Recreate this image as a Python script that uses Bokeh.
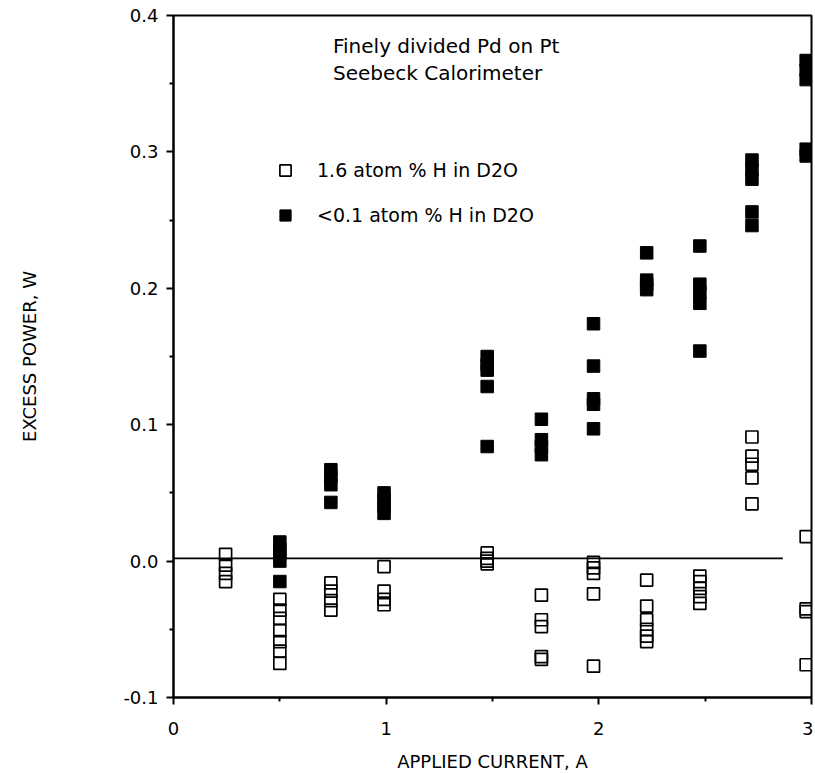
from bokeh.plotting import figure
from bokeh.models import (FixedTicker, PrintfTickFormatter, Label, Legend, LegendItem)
from bokeh.embed import file_html
from bokeh.resources import INLINE

FONT = "DejaVu Sans"

# ---- data: 1.6 atom % H in D2O (open squares) ----
open_x = ([0.245] * 4 + [0.5] * 7 + [0.74] * 4 + [0.99] * 4 + [1.475] * 4 + [1.73] * 5
          + [1.975] * 5 + [2.225] * 6 + [2.475] * 5 + [2.72] * 5 + [2.975] * 4)
open_y = [0.005, -0.003, -0.009, -0.015,
          -0.028, -0.036, -0.042, -0.051, -0.059, -0.066, -0.075,
          -0.016, -0.022, -0.029, -0.036,
          -0.004, -0.022, -0.028, -0.032,
          0.006, 0.002, 0.0, -0.002,
          -0.025, -0.043, -0.048, -0.070, -0.072,
          -0.001, -0.005, -0.009, -0.024, -0.077,
          -0.014, -0.033, -0.043, -0.050, -0.055, -0.059,
          -0.011, -0.015, -0.020, -0.026, -0.031,
          0.091, 0.077, 0.071, 0.061, 0.042,
          0.018, -0.035, -0.037, -0.076]

# ---- data: <0.1 atom % H in D2O (filled squares) ----
filled_x = ([0.5] * 5 + [0.74] * 4 + [0.99] * 4 + [1.475] * 5 + [1.73] * 4 + [1.975] * 5
            + [2.225] * 4 + [2.475] * 5 + [2.72] * 5 + [2.975] * 5)
filled_y = [0.014, 0.009, 0.005, 0.0, -0.015,
            0.067, 0.062, 0.056, 0.043,
            0.050, 0.045, 0.040, 0.035,
            0.150, 0.144, 0.140, 0.128, 0.084,
            0.104, 0.089, 0.084, 0.078,
            0.174, 0.143, 0.119, 0.115, 0.097,
            0.226, 0.206, 0.203, 0.199,
            0.231, 0.203, 0.197, 0.189, 0.154,
            0.294, 0.287, 0.280, 0.256, 0.246,
            0.367, 0.360, 0.353, 0.302, 0.297]

# zero reference line
ref_x = [0.0, 2.865]
ref_y = [0.002, 0.002]

y_ticks = [-0.1, 0.0, 0.1, 0.2, 0.3, 0.4]
y_minor = [-0.05, 0.05, 0.15, 0.25, 0.35]
x_ticks = [0, 1, 2, 3]
x_minor = [0.5, 1.5, 2.5]

title_lines = ["Finely divided Pd on Pt", "Seebeck Calorimeter"]
series_names = ["1.6 atom % H in D2O", "<0.1 atom % H in D2O"]

p = figure(width=813, height=774, output_backend="svg", toolbar_location=None,
           x_range=(0, 3), y_range=(-0.1, 0.4),
           min_border_left=173, min_border_right=2, min_border_top=15, min_border_bottom=72)
p.grid.visible = False
p.background_fill_color = "white"
p.outline_line_color = "black"
p.outline_line_width = 2
p.outline_line_alpha = 1

for ax in (p.xaxis[0], p.yaxis[0]):
    ax.axis_line_width = 2
    ax.axis_line_color = "black"
    ax.major_tick_line_width = 2
    ax.minor_tick_line_width = 2
    ax.major_tick_out = 7
    ax.major_tick_in = 0
    ax.minor_tick_out = 4
    ax.minor_tick_in = 0
    ax.major_label_text_font = FONT
    ax.major_label_text_font_size = "18px"
    ax.major_label_text_color = "black"
    ax.axis_label_text_font = FONT
    ax.axis_label_text_font_size = "18px"
    ax.axis_label_text_font_style = "normal"
    ax.axis_label_text_color = "black"

p.yaxis.ticker = FixedTicker(ticks=y_ticks, minor_ticks=y_minor)
p.yaxis.formatter = PrintfTickFormatter(format="%.1f")
p.yaxis.major_label_standoff = 8
p.yaxis.axis_label = "EXCESS POWER, W"
p.yaxis.axis_label_standoff = 80
p.xaxis.ticker = FixedTicker(ticks=x_ticks, minor_ticks=x_minor)
p.xaxis.major_label_standoff = 17
p.xaxis.axis_label = "APPLIED CURRENT, A"
p.xaxis.axis_label_standoff = 13

p.line(ref_x, ref_y, line_color="black", line_width=1.8)

r_open = p.scatter(open_x, open_y, marker="square", size=12, fill_alpha=0,
                   line_color="black", line_width=1.7)
r_fill = p.scatter(filled_x, filled_y, marker="square", size=12.5, fill_color="black",
                   line_color="black", line_width=1)

for i, t in enumerate(title_lines):
    p.add_layout(Label(x=0.75, y=0.3775 - i * 0.0195, text=t, text_align="left",
                       text_baseline="middle", text_font=FONT,
                       text_font_size="20px", text_color="black"))

legend = Legend(items=[LegendItem(label=series_names[0], renderers=[r_open]),
                       LegendItem(label=series_names[1], renderers=[r_fill])],
                location=(98, 468), orientation="vertical",
                glyph_width=28, glyph_height=28, spacing=17, padding=0, margin=0,
                label_standoff=18, label_text_font=FONT, label_text_font_size="19px",
                label_text_color="black",
                border_line_alpha=0, background_fill_alpha=0)
p.add_layout(legend)

open("out.html", "w").write(file_html(p, INLINE))
